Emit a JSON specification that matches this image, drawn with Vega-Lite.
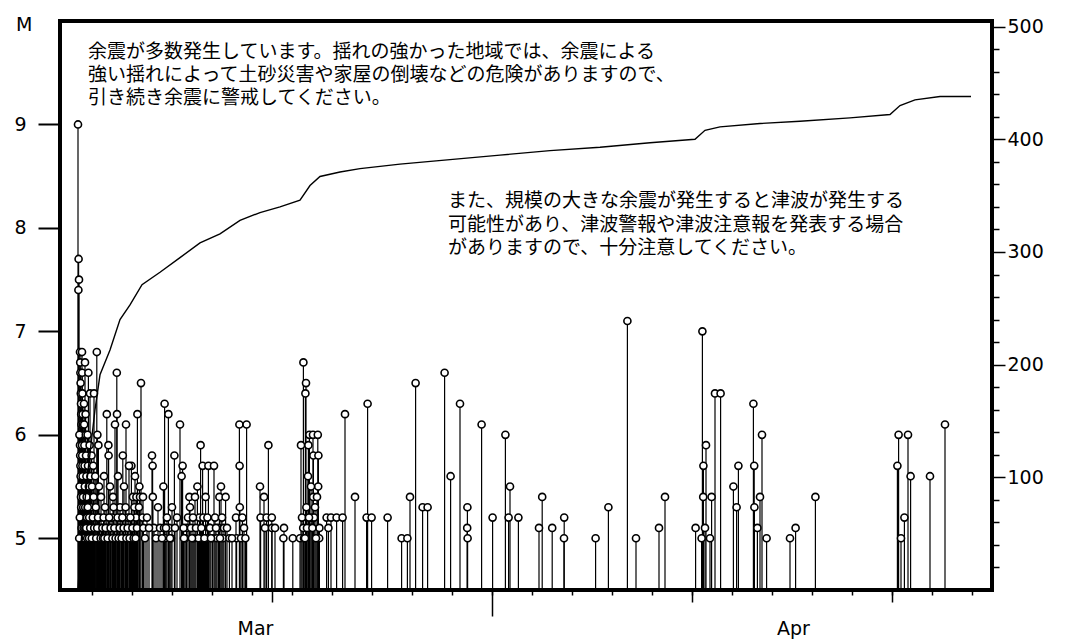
{
  "$schema": "https://vega.github.io/schema/vega-lite/v6.json",
  "width": 932,
  "height": 569,
  "autosize": {"type": "none"},
  "padding": {"left": 60, "top": 21, "right": 78, "bottom": 52},
  "background": "white",
  "title": {"text": "M", "anchor": "start", "frame": "group", "orient": "top", "offset": 0, "dx": -44, "dy": 26, "baseline": "middle", "font": "DejaVu Sans", "fontSize": 19, "fontWeight": "normal", "color": "black"},
  "config": {
    "view": {"stroke": "black", "strokeWidth": 4},
    "axis": {
      "labelFont": "DejaVu Sans", "labelFontSize": 19, "labelColor": "black",
      "tickColor": "black", "tickWidth": 1.5, "domain": false, "grid": false,
      "titleFont": "DejaVu Sans", "titleFontSize": 19, "titleFontWeight": "normal", "titleColor": "black"
    }
  },
  "datasets": {
    "quakes": [
      {"d":0.30,"m":9.0},{"d":0.32,"m":7.4},{"d":0.33,"m":7.7},{"d":0.35,"m":7.5},
      {"d":0.40,"m":6.8},{"d":0.41,"m":6.7},{"d":0.42,"m":6.6},{"d":0.43,"m":6.5},{"d":0.44,"m":6.4},{"d":0.45,"m":6.3},{"d":0.46,"m":6.2},{"d":0.47,"m":6.1},{"d":0.48,"m":6.0},
      {"d":0.40,"m":5.9},{"d":0.41,"m":5.8},{"d":0.42,"m":5.7},{"d":0.43,"m":5.6},{"d":0.44,"m":5.5},{"d":0.45,"m":5.4},{"d":0.46,"m":5.3},{"d":0.47,"m":5.2},{"d":0.48,"m":5.1},{"d":0.49,"m":5.0},
      {"d":0.50,"m":6.8},{"d":0.51,"m":6.6},{"d":0.52,"m":6.4},{"d":0.53,"m":6.2},{"d":0.54,"m":6.1},{"d":0.55,"m":6.0},
      {"d":0.50,"m":5.9},{"d":0.51,"m":5.8},{"d":0.52,"m":5.7},{"d":0.53,"m":5.6},{"d":0.54,"m":5.5},{"d":0.55,"m":5.4},{"d":0.56,"m":5.3},{"d":0.57,"m":5.2},{"d":0.58,"m":5.1},{"d":0.59,"m":5.0},
      {"d":0.37,"m":6.0},{"d":0.38,"m":5.5},{"d":0.39,"m":5.2},{"d":0.36,"m":5.0},
      {"d":0.65,"m":6.7},{"d":0.82,"m":6.6},{"d":0.90,"m":6.4},{"d":1.10,"m":6.4},{"d":1.24,"m":6.8},{"d":1.27,"m":6.0},{"d":1.32,"m":5.9},
      {"d":0.60,"m":6.3},{"d":0.61,"m":6.1},{"d":0.62,"m":5.9},{"d":0.63,"m":5.7},{"d":0.64,"m":5.5},{"d":0.66,"m":5.3},{"d":0.67,"m":5.1},
      {"d":0.68,"m":6.2},{"d":0.69,"m":6.0},{"d":0.70,"m":5.8},{"d":0.72,"m":5.6},{"d":0.73,"m":5.4},{"d":0.75,"m":5.2},{"d":0.76,"m":5.0},
      {"d":0.78,"m":6.0},{"d":0.80,"m":5.7},{"d":0.84,"m":5.5},{"d":0.86,"m":5.2},
      {"d":0.88,"m":5.9},{"d":0.92,"m":5.6},{"d":0.94,"m":5.3},{"d":0.96,"m":5.0},
      {"d":0.98,"m":5.8},{"d":1.00,"m":5.5},{"d":1.03,"m":5.1},
      {"d":1.06,"m":5.7},{"d":1.08,"m":5.4},{"d":1.13,"m":5.0},
      {"d":1.16,"m":5.6},{"d":1.19,"m":5.3},
      {"d":1.35,"m":5.5},{"d":1.38,"m":5.2},{"d":1.41,"m":5.0},
      {"d":1.45,"m":5.4},{"d":1.48,"m":5.1},
      {"d":0.71,"m":5.1},{"d":0.79,"m":5.3},{"d":0.85,"m":5.0},{"d":0.91,"m":5.1},{"d":0.99,"m":5.0},{"d":1.04,"m":5.2},{"d":1.11,"m":5.1},{"d":1.21,"m":5.0},{"d":1.26,"m":5.1},{"d":1.30,"m":5.2},{"d":1.43,"m":5.0},
      {"d":1.74,"m":6.2},{"d":1.82,"m":5.9},{"d":1.83,"m":5.8},{"d":2.24,"m":6.6},{"d":2.25,"m":6.2},{"d":2.15,"m":6.1},{"d":2.70,"m":6.1},{"d":2.54,"m":5.8},{"d":2.97,"m":5.7},{"d":2.85,"m":5.7},{"d":3.27,"m":6.2},
      {"d":1.55,"m":5.0},{"d":1.60,"m":5.6},{"d":1.65,"m":5.3},{"d":1.75,"m":5.1},{"d":1.90,"m":5.5},{"d":1.95,"m":5.0},{"d":2.00,"m":5.2},{"d":2.05,"m":5.4},{"d":2.10,"m":5.0},{"d":2.30,"m":5.6},{"d":2.35,"m":5.1},{"d":2.40,"m":5.3},{"d":2.45,"m":5.2},{"d":2.60,"m":5.5},{"d":2.65,"m":5.0},{"d":2.75,"m":5.0},{"d":2.80,"m":5.2},{"d":3.00,"m":5.0},{"d":3.05,"m":5.4},{"d":3.10,"m":5.1},{"d":3.15,"m":5.6},{"d":3.20,"m":5.2},{"d":3.30,"m":5.3},
      {"d":1.52,"m":5.1},{"d":1.58,"m":5.2},{"d":1.62,"m":5.0},{"d":1.68,"m":5.1},{"d":1.78,"m":5.0},{"d":1.86,"m":5.2},{"d":1.93,"m":5.1},{"d":2.02,"m":5.0},{"d":2.08,"m":5.3},{"d":2.12,"m":5.1},{"d":2.18,"m":5.0},{"d":2.28,"m":5.2},{"d":2.33,"m":5.0},{"d":2.38,"m":5.1},{"d":2.48,"m":5.0},{"d":2.52,"m":5.2},{"d":2.58,"m":5.1},{"d":2.68,"m":5.3},{"d":2.72,"m":5.0},{"d":2.78,"m":5.1},{"d":2.88,"m":5.0},{"d":2.92,"m":5.2},{"d":3.02,"m":5.1},{"d":3.08,"m":5.0},{"d":3.12,"m":5.3},{"d":3.18,"m":5.0},{"d":3.25,"m":5.1},
      {"d":3.45,"m":6.5},{"d":3.37,"m":5.5},{"d":3.22,"m":5.4},{"d":3.40,"m":5.4},{"d":3.55,"m":5.4},{"d":3.35,"m":5.3},{"d":3.53,"m":5.2},{"d":3.57,"m":5.1},
      {"d":4.00,"m":5.8},{"d":4.03,"m":5.7},{"d":4.04,"m":5.4},{"d":4.10,"m":5.1},{"d":4.40,"m":5.1},{"d":4.63,"m":6.3},{"d":4.82,"m":6.2},{"d":4.57,"m":5.5},
      {"d":4.60,"m":5.1},{"d":4.66,"m":5.0},{"d":4.75,"m":5.2},{"d":4.86,"m":5.1},{"d":4.95,"m":5.0},
      {"d":5.15,"m":5.1},{"d":5.12,"m":5.8},{"d":5.40,"m":6.1},{"d":5.53,"m":5.7},{"d":5.48,"m":5.6},{"d":5.73,"m":5.1},{"d":5.87,"m":5.4},{"d":6.15,"m":5.4},{"d":5.90,"m":5.3},{"d":6.27,"m":5.5},
      {"d":6.43,"m":5.9},{"d":6.53,"m":5.7},{"d":6.68,"m":5.4},{"d":6.82,"m":5.7},{"d":7.10,"m":5.7},{"d":6.37,"m":5.2},{"d":6.57,"m":5.2},{"d":6.85,"m":5.1},{"d":6.73,"m":5.0},
      {"d":5.58,"m":5.1},{"d":5.66,"m":5.0},{"d":5.80,"m":5.2},{"d":5.95,"m":5.1},{"d":6.05,"m":5.2},{"d":6.10,"m":5.0},{"d":6.20,"m":5.1},{"d":6.32,"m":5.0},{"d":6.47,"m":5.1},{"d":6.62,"m":5.0},{"d":6.77,"m":5.2},{"d":6.90,"m":5.1},{"d":7.03,"m":5.0},{"d":7.15,"m":5.2},{"d":7.25,"m":5.0},{"d":7.32,"m":5.1},{"d":7.55,"m":5.0},{"d":7.60,"m":5.1},
      {"d":7.37,"m":5.4},{"d":7.45,"m":5.5},{"d":7.68,"m":5.4},{"d":7.50,"m":5.2},{"d":7.40,"m":5.0},{"d":7.87,"m":5.0},{"d":8.23,"m":5.0},{"d":8.20,"m":5.2},
      {"d":8.37,"m":6.1},{"d":8.73,"m":6.1},{"d":8.38,"m":5.7},{"d":8.39,"m":5.3},{"d":8.60,"m":5.1},{"d":8.45,"m":5.0},{"d":8.52,"m":5.2},{"d":8.67,"m":5.0},
      {"d":9.40,"m":5.5},{"d":9.60,"m":5.4},{"d":9.43,"m":5.2},{"d":9.73,"m":5.2},{"d":9.65,"m":5.1},{"d":9.82,"m":5.9},
      {"d":3.65,"m":5.0},{"d":3.75,"m":5.2},{"d":3.85,"m":5.1},{"d":4.20,"m":5.0},{"d":4.30,"m":5.3},{"d":4.50,"m":5.0},{"d":4.70,"m":5.1},{"d":4.90,"m":5.0},{"d":5.00,"m":5.3},{"d":5.25,"m":5.2},{"d":5.60,"m":5.0},{"d":6.00,"m":5.0},{"d":6.95,"m":5.0},{"d":7.20,"m":5.1},{"d":7.75,"m":5.1},{"d":8.00,"m":5.0},
      {"d":9.99,"m":5.2},{"d":10.00,"m":5.1},{"d":10.15,"m":5.1},{"d":10.60,"m":5.1},{"d":10.57,"m":5.0},{"d":11.04,"m":5.0},{"d":11.40,"m":5.0},
      {"d":11.57,"m":6.7},{"d":11.70,"m":6.5},{"d":11.67,"m":6.4},{"d":11.45,"m":5.9},{"d":11.87,"m":6.0},{"d":12.05,"m":6.0},{"d":12.29,"m":6.0},{"d":11.82,"m":5.9},{"d":12.07,"m":5.8},{"d":12.32,"m":5.8},{"d":12.31,"m":5.5},{"d":12.06,"m":5.4},{"d":12.00,"m":5.2},
      {"d":11.56,"m":5.1},{"d":12.37,"m":5.1},{"d":12.36,"m":5.0},{"d":11.60,"m":5.0},{"d":11.72,"m":5.3},{"d":11.80,"m":5.6},{"d":11.90,"m":5.1},{"d":11.95,"m":5.5},{"d":12.15,"m":5.3},{"d":12.20,"m":5.0},{"d":11.50,"m":5.2},{"d":11.75,"m":5.1},{"d":12.10,"m":5.2},{"d":11.65,"m":5.0},{"d":11.85,"m":5.2},{"d":12.02,"m":5.1},{"d":12.25,"m":5.4},
      {"d":12.73,"m":5.2},{"d":12.95,"m":5.2},{"d":13.23,"m":5.2},{"d":13.53,"m":5.2},{"d":12.82,"m":5.1},
      {"d":13.65,"m":6.2},{"d":14.15,"m":5.4},{"d":14.78,"m":6.3},{"d":14.73,"m":5.2},{"d":14.98,"m":5.2},{"d":15.78,"m":5.2},{"d":16.48,"m":5.0},{"d":16.77,"m":5.0},{"d":16.90,"m":5.4},{"d":17.18,"m":6.5},{"d":17.53,"m":5.3},{"d":17.78,"m":5.3},
      {"d":18.63,"m":6.6},{"d":18.93,"m":5.6},{"d":19.40,"m":6.3},{"d":19.77,"m":5.3},{"d":19.76,"m":5.1},{"d":19.78,"m":5.0},{"d":20.48,"m":6.1},{"d":21.03,"m":5.2},{"d":21.67,"m":6.0},{"d":21.83,"m":5.2},{"d":21.90,"m":5.5},{"d":22.32,"m":5.2},
      {"d":23.35,"m":5.1},{"d":23.51,"m":5.4},{"d":24.01,"m":5.1},{"d":24.61,"m":5.2},{"d":24.60,"m":5.0},{"d":26.18,"m":5.0},{"d":26.82,"m":5.3},{"d":27.77,"m":7.1},{"d":28.20,"m":5.0},{"d":29.35,"m":5.1},{"d":29.65,"m":5.4},
      {"d":31.18,"m":5.1},{"d":31.52,"m":7.0},{"d":31.48,"m":5.0},{"d":31.57,"m":5.7},{"d":31.56,"m":5.4},{"d":31.70,"m":5.9},{"d":31.65,"m":5.1},{"d":31.90,"m":5.0},{"d":31.98,"m":5.4},{"d":32.15,"m":6.4},{"d":32.43,"m":6.4},
      {"d":33.07,"m":5.5},{"d":33.23,"m":5.3},{"d":33.32,"m":5.7},{"d":34.07,"m":6.3},{"d":34.11,"m":5.7},{"d":34.12,"m":5.3},{"d":34.27,"m":5.1},{"d":34.40,"m":5.4},{"d":34.50,"m":6.0},{"d":34.73,"m":5.0},
      {"d":35.90,"m":5.0},{"d":36.18,"m":5.1},{"d":37.17,"m":5.4},
      {"d":41.27,"m":5.7},{"d":41.33,"m":6.0},{"d":41.45,"m":5.0},{"d":41.62,"m":5.2},{"d":41.80,"m":6.0},{"d":41.93,"m":5.6},{"d":42.90,"m":5.6},{"d":43.65,"m":6.1}
    ],
    "cum": [
      {"d":0.29,"c":0},{"d":0.30,"c":1},{"d":0.5,"c":53},{"d":0.8,"c":106},{"d":1.15,"c":160},{"d":1.4,"c":191},{"d":1.9,"c":213},{"d":2.4,"c":240},{"d":2.9,"c":253},{"d":3.5,"c":271},
      {"d":4.4,"c":282},{"d":5.4,"c":295},{"d":6.4,"c":308},{"d":7.4,"c":316},{"d":8.4,"c":328},{"d":9.4,"c":335},{"d":10.4,"c":340},{"d":11.4,"c":346},{"d":11.9,"c":359},{"d":12.4,"c":367},
      {"d":13.4,"c":371},{"d":14.4,"c":374},{"d":16.4,"c":378},{"d":18.9,"c":382},{"d":21.4,"c":386},{"d":23.9,"c":390},{"d":26.4,"c":393},{"d":28.9,"c":397},{"d":31.15,"c":400},{"d":31.65,"c":408},
      {"d":32.4,"c":411},{"d":34.4,"c":414},{"d":36.4,"c":416},{"d":38.9,"c":419},{"d":40.9,"c":422},{"d":41.4,"c":430},{"d":42.15,"c":435},{"d":43.4,"c":438},{"d":44.95,"c":438}
    ]
  },
  "resolve": {"scale": {"y": "independent"}, "axis": {"x": "independent", "y": "independent"}},
  "layer": [
    {
      "data": {"name": "quakes"},
      "layer": [
        {
          "mark": {"type": "rule", "color": "black", "strokeWidth": 1.2},
          "encoding": {
            "x": {"field": "d", "type": "quantitative", "scale": {"domain": [-0.6, 46], "nice": false, "zero": false},
                  "axis": {"orient": "bottom", "values": [1,2,3,4,5,6,7,8,9,10,11,12,13,14,15,16,17,18,19,20,21,22,23,24,25,26,27,28,29,30,31,32,33,34,35,36,37,38,39,40,41,42,43,44,45], "tickSize": 5, "labels": false, "title": null}},
            "y": {"field": "m", "type": "quantitative", "scale": {"domain": [4.5, 10], "nice": false, "zero": false},
                  "axis": {"orient": "left", "values": [5,6,7,8,9], "format": "d", "ticks": true, "tickWidth": 2, "tickSize": 22, "labelPadding": 12, "title": null}},
            "y2": {"datum": 4.5}
          }
        },
        {
          "mark": {"type": "point", "shape": "circle", "filled": true, "fill": "white", "stroke": "black", "strokeWidth": 1.6, "size": 50, "opacity": 1},
          "encoding": {
            "x": {"field": "d", "type": "quantitative", "scale": {"domain": [-0.6, 46], "nice": false, "zero": false}},
            "y": {"field": "m", "type": "quantitative"}
          }
        },
        {
          "data": {"values": [{}]},
          "mark": {"type": "text", "align": "left", "baseline": "middle", "font": "Noto Sans CJK JP", "fontSize": 19, "lineHeight": 23, "color": "black",
                   "text": ["余震が多数発生しています。揺れの強かった地域では、余震による", "強い揺れによって土砂災害や家屋の倒壊などの危険がありますので、", "引き続き余震に警戒してください。"]},
          "encoding": {"x": {"datum": 0.8}, "y": {"datum": 9.70}}
        },
        {
          "data": {"values": [{}]},
          "mark": {"type": "text", "align": "left", "baseline": "middle", "font": "Noto Sans CJK JP", "fontSize": 19, "lineHeight": 23.5, "color": "black",
                   "text": ["また、規模の大きな余震が発生すると津波が発生する", "可能性があり、津波警報や津波注意報を発表する場合", "がありますので、十分注意してください。"]},
          "encoding": {"x": {"datum": 18.8}, "y": {"datum": 8.26}}
        }
      ]
    },
    {
      "data": {"name": "cum"},
      "mark": {"type": "line", "color": "black", "strokeWidth": 1.4},
      "encoding": {
        "x": {"field": "d", "type": "quantitative", "scale": {"domain": [-0.6, 46], "nice": false, "zero": false},
              "axis": {"orient": "bottom", "values": [10, 31, 41], "tickSize": 12, "labels": false, "title": null}},
        "y": {"field": "c", "type": "quantitative", "scale": {"domain": [0, 505], "nice": false, "zero": false},
              "axis": {"orient": "right", "values": [100, 200, 300, 400, 500], "tickSize": 13, "labelPadding": 2, "title": null}}
      }
    },
    {
      "data": {"values": [{"d": 0, "c": 0}]},
      "mark": {"type": "point", "opacity": 0},
      "encoding": {
        "x": {"field": "d", "type": "quantitative", "scale": {"domain": [-0.6, 46], "nice": false, "zero": false},
              "axis": {"orient": "bottom", "values": [21], "tickSize": 26, "labels": false, "title": null}},
        "y": {"field": "c", "type": "quantitative", "scale": {"domain": [0, 505], "nice": false, "zero": false},
              "axis": {"orient": "right", "values": [20,40,60,80,120,140,160,180,220,240,260,280,320,340,360,380,420,440,460,480], "tickSize": 7, "labels": false, "title": null}}
      }
    },
    {
      "data": {"values": [{"d": 0}]},
      "mark": {"type": "point", "opacity": 0},
      "encoding": {
        "x": {"field": "d", "type": "quantitative", "scale": {"domain": [-0.6, 46], "nice": false, "zero": false},
              "axis": {"orient": "bottom", "values": [9.15, 36.05], "ticks": false, "tickSize": 0, "labelPadding": 29, "labelBaseline": "top", "labelOverlap": false, "labelFlush": false, "labelExpr": "datum.value < 20 ? 'Mar' : 'Apr'", "title": null}}
      }
    }
  ]
}
